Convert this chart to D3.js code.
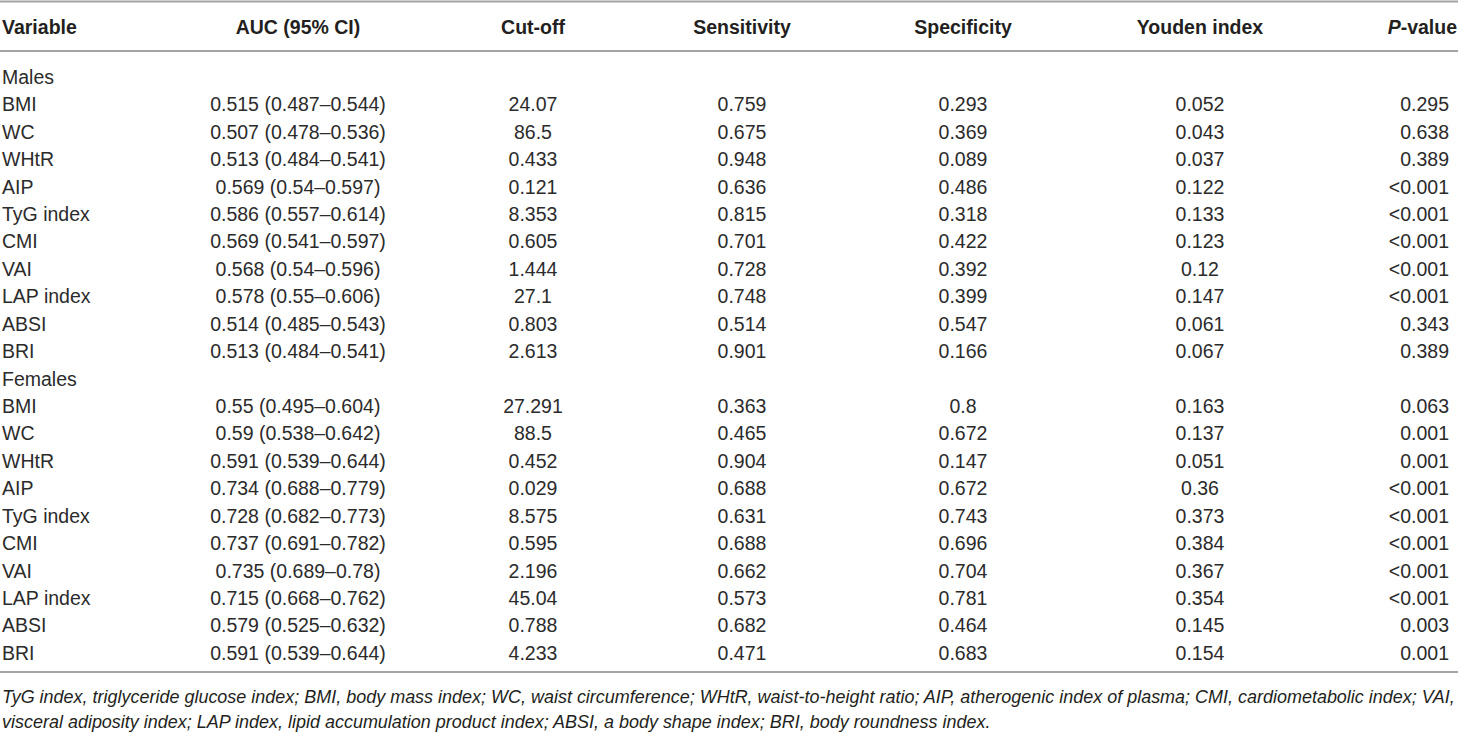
<!DOCTYPE html>
<html>
<head>
<meta charset="utf-8">
<script src="https://cdn.jsdelivr.net/npm/d3@7"></script>
<style>
  body { margin: 0; background: #fff; }
  svg text { font-family: "Liberation Sans", Arial, Helvetica, sans-serif; }
</style>
</head>
<body>
<div id="table"></div>
<script>
// table content
var headers = ["Variable", "AUC (95% CI)", "Cut-off", "Sensitivity", "Specificity", "Youden index", "P-value"];
var groups = ["Males", "Females"];
var variables = ["BMI", "WC", "WHtR", "AIP", "TyG index", "CMI", "VAI", "LAP index", "ABSI", "BRI"];

var maleAuc    = [0.515, 0.507, 0.513, 0.569, 0.586, 0.569, 0.568, 0.578, 0.514, 0.513];
var maleLow    = [0.487, 0.478, 0.484, 0.54, 0.557, 0.541, 0.54, 0.55, 0.485, 0.484];
var maleHigh   = [0.544, 0.536, 0.541, 0.597, 0.614, 0.597, 0.596, 0.606, 0.543, 0.541];
var maleCut    = [24.07, 86.5, 0.433, 0.121, 8.353, 0.605, 1.444, 27.1, 0.803, 2.613];
var maleSens   = [0.759, 0.675, 0.948, 0.636, 0.815, 0.701, 0.728, 0.748, 0.514, 0.901];
var maleSpec   = [0.293, 0.369, 0.089, 0.486, 0.318, 0.422, 0.392, 0.399, 0.547, 0.166];
var maleYouden = [0.052, 0.043, 0.037, 0.122, 0.133, 0.123, 0.12, 0.147, 0.061, 0.067];
var maleP      = ["0.295", "0.638", "0.389", "<0.001", "<0.001", "<0.001", "<0.001", "<0.001", "0.343", "0.389"];

var femaleAuc    = [0.55, 0.59, 0.591, 0.734, 0.728, 0.737, 0.735, 0.715, 0.579, 0.591];
var femaleLow    = [0.495, 0.538, 0.539, 0.688, 0.682, 0.691, 0.689, 0.668, 0.525, 0.539];
var femaleHigh   = [0.604, 0.642, 0.644, 0.779, 0.773, 0.782, 0.78, 0.762, 0.632, 0.644];
var femaleCut    = [27.291, 88.5, 0.452, 0.029, 8.575, 0.595, 2.196, 45.04, 0.788, 4.233];
var femaleSens   = [0.363, 0.465, 0.904, 0.688, 0.631, 0.688, 0.662, 0.573, 0.682, 0.471];
var femaleSpec   = [0.8, 0.672, 0.147, 0.672, 0.743, 0.696, 0.704, 0.781, 0.464, 0.683];
var femaleYouden = [0.163, 0.137, 0.051, 0.36, 0.373, 0.384, 0.367, 0.354, 0.145, 0.154];
var femaleP      = ["0.063", "0.001", "0.001", "<0.001", "<0.001", "<0.001", "<0.001", "<0.001", "0.003", "0.001"];

var footnote = [
  "TyG index, triglyceride glucose index; BMI, body mass index; WC, waist circumference; WHtR, waist-to-height ratio; AIP, atherogenic index of plasma; CMI, cardiometabolic index; VAI,",
  "visceral adiposity index; LAP index, lipid accumulation product index; ABSI, a body shape index; BRI, body roundness index."
];

var width = 1460, height = 733;
var textColor = "#231f20", ruleColor = "#a3a3a3";

// build the table rows from the arrays
function groupRows(label, auc, lo, hi, cut, sens, spec, you, p) {
  var out = [{ group: true, cells: [label] }];
  variables.forEach(function(v, i) {
    out.push({ group: false, cells: [v, auc[i] + " (" + lo[i] + "\u2013" + hi[i] + ")", cut[i], sens[i], spec[i], you[i], p[i]] });
  });
  return out;
}
var rows = groupRows(groups[0], maleAuc, maleLow, maleHigh, maleCut, maleSens, maleSpec, maleYouden, maleP)
  .concat(groupRows(groups[1], femaleAuc, femaleLow, femaleHigh, femaleCut, femaleSens, femaleSpec, femaleYouden, femaleP));

var svg = d3.select("#table").append("svg")
  .attr("width", width)
  .attr("height", height);

// column scale: x position of each column (left, centre or right anchored)
var colX = d3.scaleOrdinal().domain(d3.range(7)).range([2, 298, 533, 742, 963, 1200, 1449]);
var anchor = function(i) { return i === 0 ? "start" : (i === 6 ? "end" : "middle"); };

// row scale
var y = d3.scalePoint().domain(d3.range(rows.length)).range([77, 653]);

// rules
[1.5, 51, 672].forEach(function(ry) {
  svg.append("line")
    .attr("x1", 0).attr("x2", 1458)
    .attr("y1", ry).attr("y2", ry)
    .attr("stroke", ruleColor)
    .attr("stroke-width", 2.2);
});

// header
svg.append("g").selectAll("text")
  .data(headers)
  .enter().append("text")
    .attr("x", function(d, i) { return i === 6 ? 1457 : colX(i); })
    .attr("y", 27)
    .attr("dy", "0.35em")
    .attr("text-anchor", function(d, i) { return anchor(i); })
    .style("font-size", "19.5px")
    .style("font-weight", "bold")
    .style("fill", textColor)
    .each(function(d) {
      var t = d3.select(this);
      if (d === "P-value") {
        t.append("tspan").style("font-style", "italic").text("P");
        t.append("tspan").text("-value");
      } else {
        t.text(d);
      }
    });

// body
var rowG = svg.append("g").selectAll("g")
  .data(rows)
  .enter().append("g")
    .attr("transform", function(d, i) { return "translate(0," + y(i) + ")"; });

rowG.selectAll("text")
  .data(function(d) { return d.cells; })
  .enter().append("text")
    .attr("x", function(d, i) { return colX(i); })
    .attr("dy", "0.35em")
    .attr("text-anchor", function(d, i) { return anchor(i); })
    .style("font-size", "19.5px")
    .style("fill", "#2b2b2b")
    .text(function(d) { return d; });

// footnote, fitted to the table width
var foot = svg.append("g").selectAll("text")
  .data(footnote)
  .enter().append("text")
    .attr("x", 2)
    .attr("y", function(d, i) { return 697 + i * 25; })
    .attr("dy", "0.35em")
    .style("font-size", "16px")
    .style("font-style", "italic")
    .style("fill", textColor)
    .text(function(d) { return d; });

var w0 = foot.node().getComputedTextLength();
foot.style("font-size", (16 * 1454 / w0) + "px");
</script>
</body>
</html>
